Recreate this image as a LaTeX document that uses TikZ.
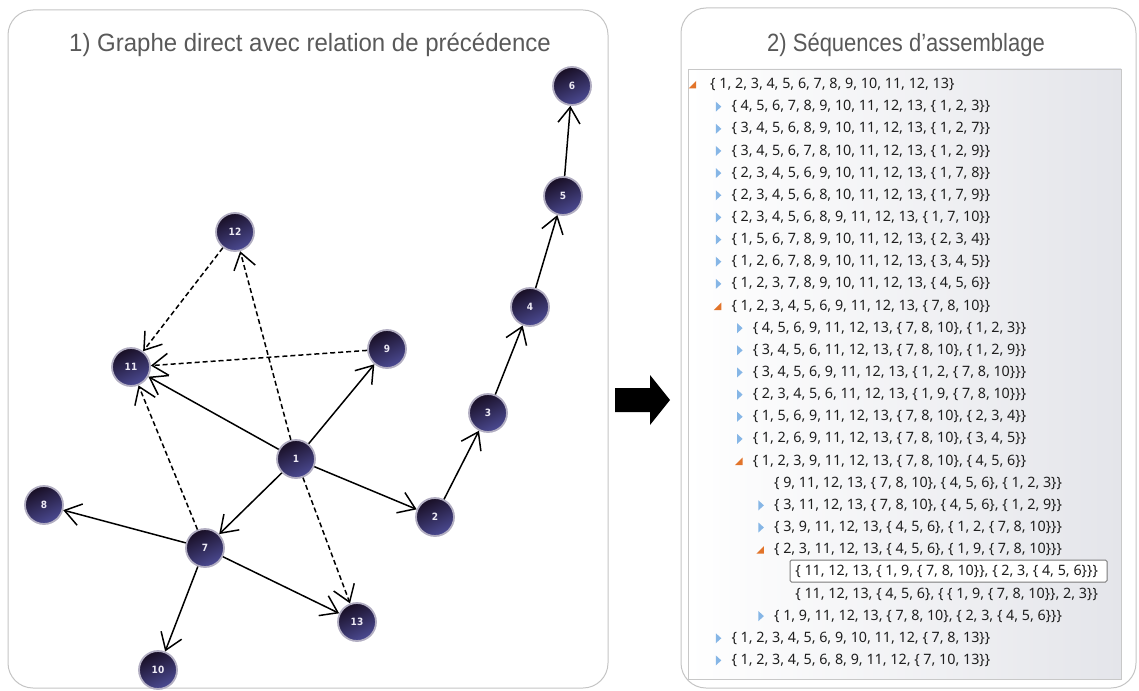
\documentclass[tikz,border=0pt]{standalone}
\usepackage{fontspec}
\usepackage{graphicx}
\setmainfont{Liberation Sans}
\newfontfamily\treefont{Noto Sans}
\newfontfamily\gnodefont{DejaVu Sans Condensed}
\usetikzlibrary{arrows.meta}
\definecolor{titlegrey}{HTML}{595959}
\definecolor{panelborder}{HTML}{C4C4C4}
\definecolor{nodedark}{HTML}{180E24}
\definecolor{nodelight}{HTML}{4C4B94}
\definecolor{noderim}{HTML}{B2AEC2}
\definecolor{treeblue}{HTML}{86B6E6}
\definecolor{treeorange}{HTML}{E2742A}
\definecolor{treetext}{HTML}{1E1E1E}
\definecolor{treebg}{HTML}{E4E5EA}
\definecolor{treeborder}{HTML}{C8C8C8}
\definecolor{selborder}{HTML}{7A7A7A}
\definecolor{labelwhite}{HTML}{EDEAF5}
\newcommand\TRline[3]{%
  \pgfmathsetmacro\TRy{84.5+(#1-1)*22.15}%
  \pgfmathsetmacro\TRx{710+#2*21.3}%
  \node[treeitem] (t#1) at (\TRx,\TRy) {#3};}
\newcommand\TRcol[1]{\fill[treeblue] ([shift={(-15.5,-5)}]t#1.west) -- ([shift={(-15.5,5)}]t#1.west) -- ([shift={(-10,0)}]t#1.west) -- cycle;}
\newcommand\TRexp[1]{\fill[treeorange] ([shift={(-17.5,4)}]t#1.west) -- ([shift={(-10,4)}]t#1.west) -- ([shift={(-10,-3.5)}]t#1.west) -- cycle;}
\begin{document}
\begin{tikzpicture}[x=1pt,y=-1pt,
  titletext/.style={anchor=base, inner sep=0, text=titlegrey, font=\fontsize{25}{30}\selectfont},
  panel/.style={draw=panelborder, line width=1pt, rounded corners=25pt},
  gnode/.style={circle, minimum size=38pt, inner sep=0, draw=noderim, line width=1.8pt,
    shading=axis, top color=nodedark, bottom color=nodelight, shading angle=25,
    text=labelwhite, font=\gnodefont\bfseries\fontsize{10}{10}\selectfont},
  garrow/.style={line width=1.5pt, -{Straight Barb[length=16pt,width=22pt,line width=1.5pt]}},
  gdash/.style={garrow, dash pattern=on 5pt off 3pt},
  treeitem/.style={anchor=west, inner sep=0, text=treetext, font=\treefont\fontsize{14.3}{16}\selectfont}]
\useasboundingbox (0,0) rectangle (1139,690);
% panels
\draw[panel] (8,10) rectangle (608,688);
\draw[panel] (681,8) rectangle (1136,688);
\node[titletext] (title1) at (310,52) {\scalebox{0.96}[1]{1) Graphe direct avec relation de précédence}};
\node[titletext] (title2) at (906,52) {\scalebox{0.88}[1]{2) Séquences d’assemblage}};
% block arrow
\fill[black] (615,388) -- (650,388) -- (650,375) -- (670,400) -- (650,425) -- (650,412) -- (615,412) -- cycle;
% graph nodes
\node[gnode] (n1) at (296,459) {1};
\node[gnode] (n2) at (435,517) {2};
\node[gnode] (n3) at (488,413) {3};
\node[gnode] (n4) at (530,307) {4};
\node[gnode] (n5) at (563,196) {5};
\node[gnode] (n6) at (572,86) {6};
\node[gnode] (n7) at (205,548) {7};
\node[gnode] (n8) at (44,505) {8};
\node[gnode] (n9) at (387,349) {9};
\node[gnode] (n10) at (158,670) {10};
\node[gnode] (n11) at (131,367) {11};
\node[gnode] (n12) at (235,232) {12};
\node[gnode] (n13) at (357,622) {13};
% edges
\draw[garrow] (n1) -- (n11);
\draw[garrow] (n1) -- (n9);
\draw[garrow] (n1) -- (n2);
\draw[garrow] (n1) -- (n7);
\draw[garrow] (n2) -- (n3);
\draw[garrow] (n3) -- (n4);
\draw[garrow] (n4) -- (n5);
\draw[garrow] (n5) -- (n6);
\draw[garrow] (n7) -- (n8);
\draw[garrow] (n7) -- (n13);
\draw[garrow] (n7) -- (n10);
\draw[gdash] (n1) -- (n12);
\draw[gdash] (n12) -- (n11);
\draw[gdash] (n9) -- (n11);
\draw[gdash] (n7) -- (n11);
\draw[gdash] (n1) -- (n13);
% tree view
\shade[left color=white, right color=treebg] (688,69) rectangle (1121,679);
\draw[treeborder, line width=0.8pt] (688,69) rectangle (1121,679);
\fill[white] (790,560) rectangle (1107,582);
\draw[selborder, line width=1pt, rounded corners=1.5pt] (790,560) rectangle (1107,582);
\TRline{1}{0}{\{ 1, 2, 3, 4, 5, 6, 7, 8, 9, 10, 11, 12, 13\}}
\TRline{2}{1}{\{ 4, 5, 6, 7, 8, 9, 10, 11, 12, 13, \{ 1, 2, 3\}\}}
\TRline{3}{1}{\{ 3, 4, 5, 6, 8, 9, 10, 11, 12, 13, \{ 1, 2, 7\}\}}
\TRline{4}{1}{\{ 3, 4, 5, 6, 7, 8, 10, 11, 12, 13, \{ 1, 2, 9\}\}}
\TRline{5}{1}{\{ 2, 3, 4, 5, 6, 9, 10, 11, 12, 13, \{ 1, 7, 8\}\}}
\TRline{6}{1}{\{ 2, 3, 4, 5, 6, 8, 10, 11, 12, 13, \{ 1, 7, 9\}\}}
\TRline{7}{1}{\{ 2, 3, 4, 5, 6, 8, 9, 11, 12, 13, \{ 1, 7, 10\}\}}
\TRline{8}{1}{\{ 1, 5, 6, 7, 8, 9, 10, 11, 12, 13, \{ 2, 3, 4\}\}}
\TRline{9}{1}{\{ 1, 2, 6, 7, 8, 9, 10, 11, 12, 13, \{ 3, 4, 5\}\}}
\TRline{10}{1}{\{ 1, 2, 3, 7, 8, 9, 10, 11, 12, 13, \{ 4, 5, 6\}\}}
\TRline{11}{1}{\{ 1, 2, 3, 4, 5, 6, 9, 11, 12, 13, \{ 7, 8, 10\}\}}
\TRline{12}{2}{\{ 4, 5, 6, 9, 11, 12, 13, \{ 7, 8, 10\}, \{ 1, 2, 3\}\}}
\TRline{13}{2}{\{ 3, 4, 5, 6, 11, 12, 13, \{ 7, 8, 10\}, \{ 1, 2, 9\}\}}
\TRline{14}{2}{\{ 3, 4, 5, 6, 9, 11, 12, 13, \{ 1, 2, \{ 7, 8, 10\}\}\}}
\TRline{15}{2}{\{ 2, 3, 4, 5, 6, 11, 12, 13, \{ 1, 9, \{ 7, 8, 10\}\}\}}
\TRline{16}{2}{\{ 1, 5, 6, 9, 11, 12, 13, \{ 7, 8, 10\}, \{ 2, 3, 4\}\}}
\TRline{17}{2}{\{ 1, 2, 6, 9, 11, 12, 13, \{ 7, 8, 10\}, \{ 3, 4, 5\}\}}
\TRline{18}{2}{\{ 1, 2, 3, 9, 11, 12, 13, \{ 7, 8, 10\}, \{ 4, 5, 6\}\}}
\TRline{19}{3}{\{ 9, 11, 12, 13, \{ 7, 8, 10\}, \{ 4, 5, 6\}, \{ 1, 2, 3\}\}}
\TRline{20}{3}{\{ 3, 11, 12, 13, \{ 7, 8, 10\}, \{ 4, 5, 6\}, \{ 1, 2, 9\}\}}
\TRline{21}{3}{\{ 3, 9, 11, 12, 13, \{ 4, 5, 6\}, \{ 1, 2, \{ 7, 8, 10\}\}\}}
\TRline{22}{3}{\{ 2, 3, 11, 12, 13, \{ 4, 5, 6\}, \{ 1, 9, \{ 7, 8, 10\}\}\}}
\TRline{23}{4}{\{ 11, 12, 13, \{ 1, 9, \{ 7, 8, 10\}\}, \{ 2, 3, \{ 4, 5, 6\}\}\}}
\TRline{24}{4}{\{ 11, 12, 13, \{ 4, 5, 6\}, \{ \{ 1, 9, \{ 7, 8, 10\}\}, 2, 3\}\}}
\TRline{25}{3}{\{ 1, 9, 11, 12, 13, \{ 7, 8, 10\}, \{ 2, 3, \{ 4, 5, 6\}\}\}}
\TRline{26}{1}{\{ 1, 2, 3, 4, 5, 6, 9, 10, 11, 12, \{ 7, 8, 13\}\}}
\TRline{27}{1}{\{ 1, 2, 3, 4, 5, 6, 8, 9, 11, 12, \{ 7, 10, 13\}\}}
% markers
\fill[treeorange] ([shift={(-21.5,4)}]t1.west) -- ([shift={(-14,4)}]t1.west) -- ([shift={(-14,-3.5)}]t1.west) -- cycle;
\TRcol{2}\TRcol{3}\TRcol{4}\TRcol{5}\TRcol{6}\TRcol{7}\TRcol{8}\TRcol{9}\TRcol{10}
\TRexp{11}
\TRcol{12}\TRcol{13}\TRcol{14}\TRcol{15}\TRcol{16}\TRcol{17}
\TRexp{18}
\TRcol{20}\TRcol{21}
\TRexp{22}
\TRcol{25}\TRcol{26}\TRcol{27}
\end{tikzpicture}
\end{document}
